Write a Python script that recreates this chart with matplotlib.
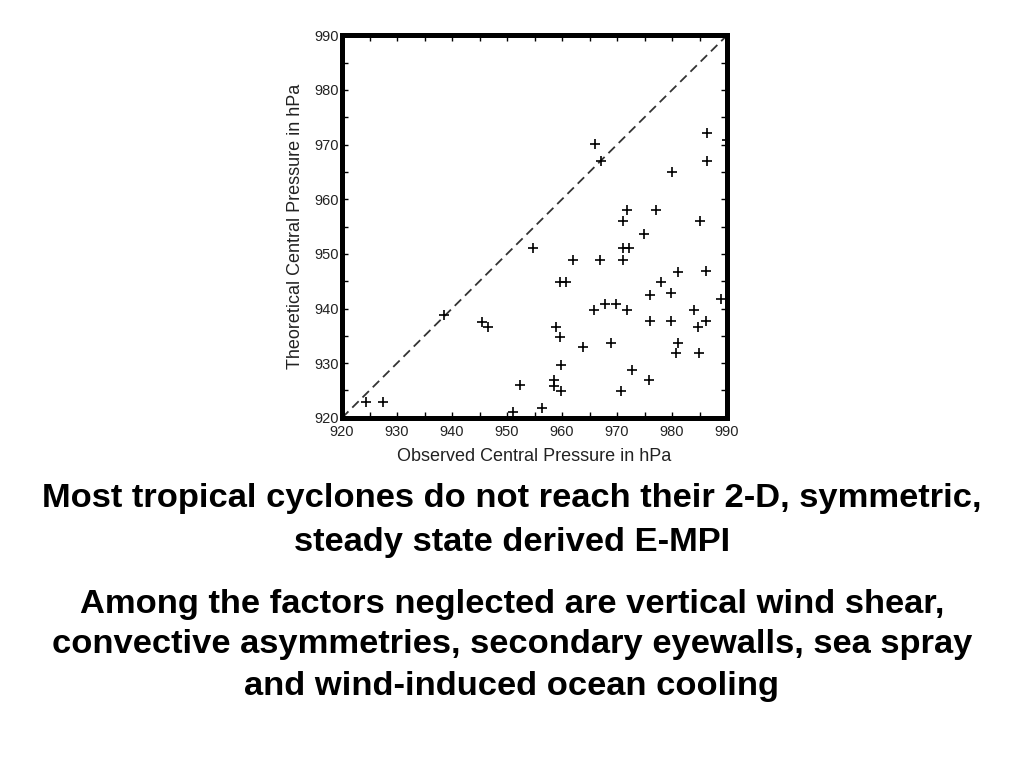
import matplotlib
matplotlib.use("Agg")
import matplotlib.pyplot as plt
from matplotlib.ticker import MultipleLocator

observed = [924.4, 927.4, 938.5, 945.4, 946.5, 951.1, 952.3, 954.7, 956.4, 958.9,
            958.6, 958.6, 959.8, 959.7, 959.8, 959.7, 960.8, 962.0, 963.9, 966.0,
            967.1, 965.8, 966.9, 967.9, 969.9, 968.9, 971.0, 971.0, 972.1, 971.0,
            971.9, 971.9, 972.7, 970.8, 974.9, 977.1, 976.0, 976.0, 975.9, 978.0,
            980.0, 979.9, 979.9, 981.0, 981.0, 980.8, 984.0, 984.8, 985.1, 984.9,
            986.1, 986.1, 986.3, 986.3, 988.9, 990.0]
theoretical = [922.8, 922.8, 938.9, 937.6, 936.7, 921.1, 926.0, 951.1, 921.8, 936.7,
               926.9, 925.8, 924.9, 934.8, 929.6, 944.8, 944.8, 948.8, 932.9, 970.1,
               967.0, 939.8, 948.8, 940.9, 940.9, 933.7, 956.0, 951.1, 951.1, 948.8,
               958.0, 939.8, 928.8, 924.9, 953.7, 958.0, 942.5, 937.8, 926.9, 944.8,
               964.9, 942.8, 937.8, 946.7, 933.7, 931.8, 939.8, 936.7, 956.0, 931.8,
               937.8, 946.9, 972.1, 967.0, 941.7, 970.9]
diag = [920, 990]
ticks = [920, 930, 940, 950, 960, 970, 980, 990]

title1 = ["Most tropical cyclones do not reach their 2-D, symmetric,",
          "steady state derived E-MPI"]
title2 = ["Among the factors neglected are vertical wind shear,",
          "convective asymmetries, secondary eyewalls, sea spray",
          "and wind-induced ocean cooling"]

fam = ["Liberation Sans", "DejaVu Sans"]

fig = plt.figure(figsize=(10.24, 7.68), dpi=100)
ax = fig.add_axes([0.334, 0.456, 0.376, 0.498])

ax.plot(diag, diag, linestyle=(0, (5, 3)), color="#333333", lw=1.3)
ax.scatter(observed, theoretical, marker="+", s=55, color="black", linewidths=1.2, zorder=3)

ax.set_xlim(920, 990)
ax.set_ylim(920, 990)
ax.set_xticks(ticks)
ax.set_yticks(ticks)
ax.xaxis.set_minor_locator(MultipleLocator(5))
ax.yaxis.set_minor_locator(MultipleLocator(5))
ax.tick_params(which="both", direction="in", length=4.5, width=1,
               top=True, right=True, colors="black")
ax.tick_params(which="major", labelsize=10.5, labelcolor="#222222")
ax.tick_params(axis="x", which="major", pad=5)
ax.tick_params(axis="y", which="major", pad=2)
for lab in ax.get_xticklabels() + ax.get_yticklabels():
    lab.set_family(fam)
for s in ax.spines.values():
    s.set_linewidth(3.6)
    s.set_color("black")

ax.set_xlabel("Observed Central Pressure in hPa", fontsize=13, color="#222222",
              labelpad=7, family=fam)
ax.set_ylabel("Theoretical Central Pressure in hPa", fontsize=13, color="#222222",
              labelpad=8, family=fam)

font = dict(family=fam, fontweight="bold", fontsize=24.8,
            ha="center", va="center", color="black")
ys = [499, 543]
for t, y in zip(title1, ys):
    fig.text(0.5, 1 - y / 768, t, **font)
ys2 = [605, 645, 686]
for t, y in zip(title2, ys2):
    fig.text(0.5, 1 - y / 768, t, **font)

fig.savefig("out.png", dpi=100)
